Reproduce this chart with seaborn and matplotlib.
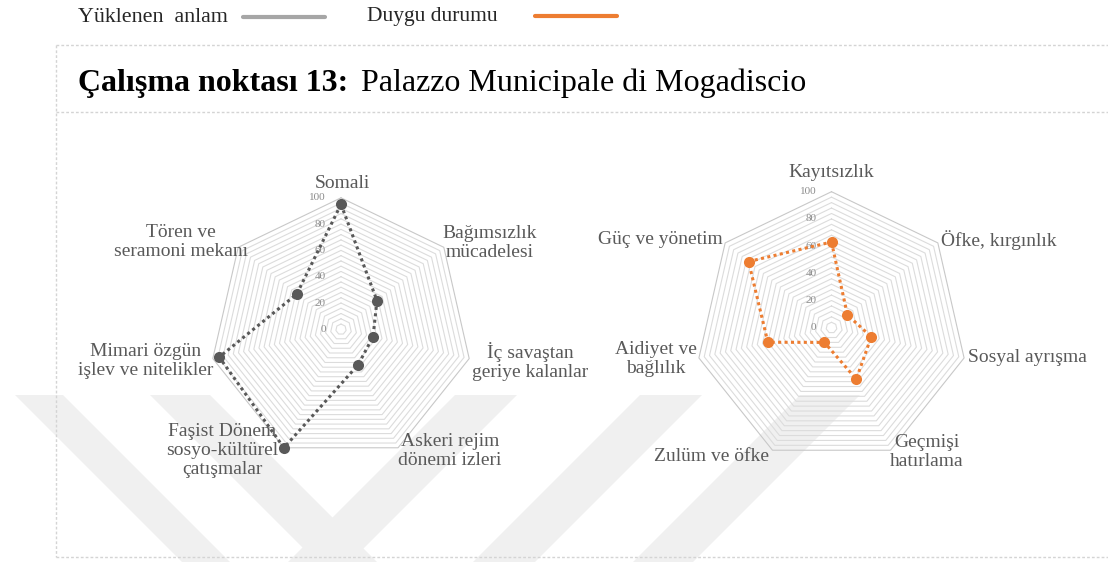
import numpy as np
import pandas as pd
import matplotlib
matplotlib.use("Agg")
import matplotlib.pyplot as plt
import matplotlib.transforms as mtransforms
from matplotlib.patches import Polygon
from matplotlib.lines import Line2D
import seaborn as sns

# ---------------- data ----------------
meaning_labels = ["Somali", "Bağımsızlık\nmücadelesi", "İç savaştan\ngeriye kalanlar",
                  "Askeri rejim\ndönemi izleri", "Faşist Dönem\nsosyo-kültürel\nçatışmalar",
                  "Mimari özgün\nişlev ve nitelikler", "Tören ve\nseramoni mekanı"]
meaning_values = [95, 35, 25, 30, 100, 95, 43]

emotion_labels = ["Kayıtsızlık", "Öfke, kırgınlık", "Sosyal ayrışma", "Geçmişi\nhatırlama",
                  "Zulüm ve öfke", "Aidiyet ve\nbağlılık", "Güç ve yönetim"]
emotion_values = [63, 15, 30, 42, 12, 48, 78]

radial_ticks = [0, 20, 40, 60, 80, 100]
ring_levels = list(range(4, 101, 4))
legend_labels = ["Yüklenen  anlam", "Duygu durumu"]
title_bold = "Çalışma noktası 13:"
title_rest = "Palazzo Municipale di Mogadiscio"

# ---------------- style ----------------
sns.set_style("white")
plt.rcParams["font.family"] = ["Liberation Serif", "DejaVu Serif"]

W, H = 1108, 562
fig = plt.figure(figsize=(W / 100, H / 100), dpi=100)
fig.patch.set_facecolor("white")

GRAY_DOT = "#595959"
ORANGE = "#ed7d31"
LABEL_C = "#595959"


def fx(x):
    return x / W


def fy(y):
    return 1 - y / H


# watermark bands (decoration)
def band(xl, w, direction, color="#f0f0f0"):
    top, bot = 395, 562
    s = direction * (bot - top)
    pts = [(xl, top), (xl + w, top), (xl + w + s, bot), (xl + s, bot)]
    fig.add_artist(Polygon([(fx(a), fy(b)) for a, b in pts], closed=True,
                           transform=fig.transFigure, facecolor=color,
                           edgecolor="none", zorder=-2))


band(15, 48, +1)
band(150, 60, +1)
band(455, 62, -1)
band(640, 62, -1)
band(800, 60, -1)

# frame (dashed box)
box_kw = dict(transform=fig.transFigure, color="#d4d4d4", lw=1.0,
              linestyle=(0, (2, 1.5)), zorder=-1)
fig.add_artist(Line2D([fx(56), fx(W)], [fy(45), fy(45)], **box_kw))
fig.add_artist(Line2D([fx(56), fx(W)], [fy(112), fy(112)], **box_kw))
fig.add_artist(Line2D([fx(56), fx(W)], [fy(557), fy(557)], **box_kw))
fig.add_artist(Line2D([fx(56), fx(56)], [fy(45), fy(557)], **box_kw))

# legend
fig.text(fx(78), fy(17), legend_labels[0], ha="left", va="center", fontsize=15.8, color="#262626")
fig.add_artist(Line2D([fx(243), fx(325)], [fy(17), fy(17)], transform=fig.transFigure,
                      color="#a6a6a6", lw=3))
fig.text(fx(367), fy(16), legend_labels[1], ha="left", va="center", fontsize=15.5, color="#262626")
fig.add_artist(Line2D([fx(535), fx(617)], [fy(16), fy(16)], transform=fig.transFigure,
                      color=ORANGE, lw=3))

# title
t1 = fig.text(fx(78), fy(91), title_bold, ha="left", va="baseline", fontsize=23,
              fontweight="bold", color="black")
fig.canvas.draw()
bb = t1.get_window_extent(renderer=fig.canvas.get_renderer())
fig.text((bb.x1 + 13) / W, fy(91), title_rest, ha="left", va="baseline", fontsize=23,
         color="black")


def radar(cx, cy, R, labels, values, color, offsets):
    ax = fig.add_axes([fx(cx - R), fy(cy + R), 2 * R / W, 2 * R / H], projection="polar")
    ax.set_facecolor("none")
    ax.set_theta_offset(np.pi / 2)
    ax.set_theta_direction(-1)
    n = len(labels)
    theta = np.arange(n) * 2 * np.pi / n
    th_closed = np.append(theta, 2 * np.pi)

    for lvl in ring_levels:
        ax.plot(th_closed, [lvl] * (n + 1), color="#c8c8c8" if lvl == 100 else "#dcdcdc",
                lw=0.8, zorder=1, clip_on=False)

    df = pd.DataFrame({"theta": th_closed, "r": list(values) + [values[0]]})
    sns.lineplot(data=df, x="theta", y="r", sort=False, estimator=None, ax=ax,
                 color=color, lw=2.2, linestyle=(0, (1, 1.1)), clip_on=False, zorder=4)
    sns.scatterplot(x=theta, y=values, ax=ax, s=64, color=color, edgecolor=color,
                    linewidth=0, clip_on=False, zorder=5)

    ax.set_ylim(0, 100)
    ax.set_xticks([])
    ax.set_yticks([])
    ax.grid(False)
    ax.spines["polar"].set_visible(False)
    ax.set_xlabel("")
    ax.set_ylabel("")

    tick_tr = mtransforms.offset_copy(ax.transData, fig=fig, x=-15, y=0, units="dots")
    for v in radial_ticks:
        ax.text(0, v, str(v), transform=tick_tr, ha="right", va="center", fontsize=8,
                color="#8c8c8c", clip_on=False, zorder=3)

    for lab, (dx, dy) in zip(labels, offsets):
        tr = mtransforms.offset_copy(ax.transAxes, fig=fig, x=dx, y=dy, units="dots")
        ax.text(0.5, 0.5, lab, transform=tr, ha="center", va="center",
                multialignment="center", fontsize=14, color=LABEL_C, clip_on=False,
                zorder=2, linespacing=1.15)
    return ax


left_offsets = [(1, 146), (149, 86), (189, -32), (109, -122), (-119, -121), (-195, -32), (-160, 87)]
right_offsets = [(0, 155), (167, 88), (196, -30), (95, -124), (-120, -129), (-176, -31), (-171, 88)]

radar(341, 329.3, 131.5, meaning_labels, meaning_values, GRAY_DOT, left_offsets)
radar(831.5, 327.7, 136, emotion_labels, emotion_values, ORANGE, right_offsets)

fig.savefig("out.png", dpi=100, facecolor="white")
